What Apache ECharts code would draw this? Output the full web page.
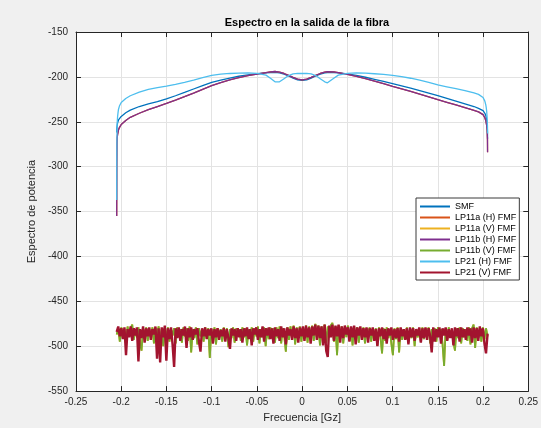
<!DOCTYPE html>
<html>
<head>
<meta charset="utf-8">
<script src="https://cdn.jsdelivr.net/npm/echarts@6/dist/echarts.min.js"></script>
<style>html,body{margin:0;padding:0;background:#f0f0f0;}#c{width:541px;height:428px;}</style>
</head>
<body>
<div id="c"></div>
<script>
const titleText = 'Espectro en la salida de la fibra';
const xName = 'Frecuencia [Gz]';
const yName = 'Espectro de potencia';
const seriesNames = ['SMF', 'LP11a (H) FMF', 'LP11a (V) FMF', 'LP11b (H) FMF', 'LP11b (V) FMF', 'LP21 (H) FMF', 'LP21 (V) FMF'];
const seriesColors = ['#0072BD', '#D95319', '#EDB120', '#7E2F8E', '#77AC30', '#4DBEEE', '#A2142F'];

// Frequencies for the upper (signal) curves
const freqUpper = [-0.205, -0.2049, -0.2047, -0.2045, -0.204, -0.2035, -0.203, -0.202, -0.2, -0.195, -0.19, -0.18, -0.17, -0.16, -0.15, -0.14, -0.13, -0.12, -0.11, -0.1, -0.09, -0.08, -0.07, -0.06, -0.05, -0.04, -0.035, -0.03, -0.028, -0.025, -0.02, -0.015, -0.01, -0.005, 0,
  0.005, 0.01, 0.015, 0.02, 0.025, 0.028, 0.03, 0.035, 0.04, 0.05, 0.06, 0.07, 0.08, 0.09, 0.1, 0.11, 0.12, 0.13, 0.14, 0.15, 0.16, 0.17, 0.18, 0.19, 0.195, 0.2, 0.202, 0.203, 0.2035, 0.204, 0.2045, 0.2047, 0.2049, 0.205];

const smf = [-262, -259, -256, -254, -251, -249.5, -248, -246.5, -244, -240, -237, -233, -230, -227.5, -224.5, -221, -217.3, -213.5, -209.7, -206, -203.5, -201.3, -199.3, -197.8, -196.5, -195.5, -195.1, -195, -195.1, -195.6, -197, -199, -201.3, -203.3, -204,
  -203.3, -201.3, -199, -197, -195.6, -195.1, -195, -195.1, -195.5, -196.6, -198.3, -200.4, -202.7, -205, -207.5, -210, -212.6, -215.4, -218.2, -221, -224, -227, -230, -233, -235, -237.5, -240.5, -243, -245, -248, -253, -256, -261, -269];

const lp11bH = [-355, -300, -275, -268, -264, -261.5, -259, -256.5, -253, -248.5, -245, -240.5, -236.5, -233, -229.5, -225.8, -222, -218, -213.8, -209.8, -206.3, -203.3, -200.8, -198.6, -197, -195.2, -194.4, -194, -194.1, -194.6, -196.2, -198.3, -200.5, -202.5, -203.3,
  -202.5, -200.5, -198.3, -196.2, -194.6, -194.1, -194, -194.4, -195.2, -197.2, -199.5, -202, -204.7, -207.5, -210.5, -213.3, -216.2, -219.2, -222.2, -225.3, -228.3, -231.3, -234.3, -237.3, -239, -242, -245.5, -248.5, -250.5, -254, -259, -263, -270, -284];

const lp11aH = [-355, -300, -275, -268, -264, -261.5, -259, -256.5, -253, -248.5, -245, -240.5, -236.5, -233, -229.5, -225.8, -222, -218, -213.8, -209.8, -206.3, -203.3, -200.8, -198.6, -197, -195.2, -194.4, -194, -194.1, -194.6, -196.2, -198.3, -200.5, -202.5, -203.3,
  -202.5, -200.5, -198.3, -196.2, -194.6, -194.1, -194, -194.4, -195.2, -197.2, -199.5, -202, -204.7, -207.5, -210.5, -213.3, -216.2, -219.2, -222.2, -225.3, -228.3, -231.3, -234.3, -237.3, -239, -242, -245.5, -248.5, -250.5, -254, -259, -263, -270, -284];

const lp21H = [-337, -290, -262, -252, -244, -239.5, -236, -232.5, -228.5, -224, -221, -217, -214, -212, -210.3, -208.3, -206, -203.5, -200.8, -198.3, -197, -196.2, -195.7, -195.5, -196, -198, -201.5, -205.5, -206.6, -205.5, -202, -198.5, -196.7, -196.2, -196,
  -196.2, -196.7, -198.5, -202, -205.5, -206.6, -205.5, -201.5, -198, -196, -195.5, -195.8, -196.5, -197.3, -198.3, -199.8, -201.5, -203.5, -206, -209, -211, -213, -215.3, -217.8, -219.5, -223, -227, -231, -234, -238, -245, -250, -255, -263];

// Noise floor (sampled every ~0.0017 Gz from -0.205 to 0.205)
const lp21V = [
  -484, -478, -489, -480, -492, -479, -510, -481, -490, -478, -494, -480, -488, -479, -517, -481, -491, -478, -496, -480,
  -489, -479, -493, -481, -487, -478, -514, -480, -518, -479, -490, -477, -516, -480, -492, -479, -498, -523, -480, -491,
  -479, -494, -481, -488, -478, -502, -480, -490, -479, -493, -481, -487, -480, -495, -506, -480, -489, -479, -492, -481,
  -488, -480, -497, -481, -490, -480, -493, -482, -489, -480, -495, -481, -491, -503, -480, -488, -481, -494, -480, -490,
  -481, -496, -480, -489, -479, -492, -481, -499, -480, -487, -479, -493, -481, -490, -478, -495, -480, -488, -479, -492,
  -480, -497, -479, -489, -481, -494, -478, -490, -480, -498, -479, -488, -481, -493, -478, -491, -480, -496, -479, -489,
  -478, -494, -477, -490, -479, -497, -478, -488, -476, -493, -477, -491, -478, -499, -476, -505, -512, -477, -490, -476,
  -494, -477, -489, -476, -496, -478, -491, -477, -487, -479, -495, -478, -490, -477, -498, -479, -488, -478, -493, -480,
  -490, -479, -496, -480, -488, -479, -494, -481, -500, -480, -489, -479, -492, -481, -497, -480, -488, -479, -493, -481,
  -491, -480, -495, -479, -489, -481, -493, -480, -498, -479, -490, -480, -494, -481, -488, -479, -496, -480, -491, -479,
  -493, -480, -489, -507, -479, -495, -481, -490, -479, -497, -480, -488, -479, -494, -481, -491, -480, -499, -479, -489,
  -480, -495, -479, -490, -481, -493, -479, -488, -480, -496, -479, -491, -480, -494, -478, -489, -480, -497, -508, -486];

const lp11bV = [
  -487, -480, -495, -479, -491, -481, -498, -478, -489, -480, -476, -493, -481, -490, -479, -496, -505, -480, -488, -479,
  -494, -481, -490, -479, -497, -480, -489, -478, -493, -481, -500, -480, -491, -479, -495, -481, -488, -480, -497, -479,
  -490, -481, -496, -479, -489, -480, -494, -478, -507, -481, -491, -479, -498, -480, -489, -481, -495, -479, -490, -480,
  -513, -481, -492, -479, -498, -480, -490, -481, -495, -479, -489, -480, -501, -481, -491, -479, -496, -480, -489, -481,
  -494, -479, -490, -480, -499, -481, -491, -479, -495, -480, -489, -478, -497, -481, -490, -479, -500, -480, -492, -479,
  -488, -480, -496, -479, -491, -478, -497, -480, -489, -506, -479, -493, -478, -490, -477, -498, -479, -491, -478, -495,
  -479, -489, -477, -496, -478, -491, -477, -494, -475, -490, -477, -499, -478, -492, -476, -496, -478, -490, -477, -474,
  -495, -478, -510, -477, -492, -478, -497, -479, -490, -477, -494, -479, -499, -478, -491, -479, -496, -480, -489, -479,
  -497, -480, -490, -479, -495, -481, -491, -480, -499, -479, -490, -508, -480, -494, -479, -491, -481, -497, -510, -480,
  -492, -479, -507, -480, -493, -481, -490, -479, -496, -480, -491, -479, -500, -481, -490, -480, -495, -479, -492, -480,
  -490, -479, -497, -481, -491, -480, -495, -479, -489, -481, -498, -522, -480, -493, -479, -490, -481, -496, -505, -480,
  -491, -479, -497, -480, -490, -481, -494, -479, -498, -480, -476, -502, -479, -491, -480, -495, -479, -492, -480, -489];

const lp11aV = lp11bV.slice();

const xTicks = [-0.25, -0.2, -0.15, -0.1, -0.05, 0, 0.05, 0.1, 0.15, 0.2, 0.25];
const yTicks = [-550, -500, -450, -400, -350, -300, -250, -200, -150];

const noiseStart = -0.205, noiseEnd = 0.205;
function noisePairs(vals) {
  const n = vals.length;
  return vals.map((v, i) => [noiseStart + (noiseEnd - noiseStart) * i / (n - 1), v]);
}
function upperPairs(vals) { return vals.map((v, i) => [freqUpper[i], v]); }

const seriesData = [upperPairs(smf), upperPairs(lp11aH), noisePairs(lp11aV), upperPairs(lp11bH), noisePairs(lp11bV), upperPairs(lp21H), noisePairs(lp21V)];
const lineWidths = [1.3, 1.3, 1.8, 1.3, 1.8, 1.3, 2.4];

const axisColor = '#262626';
const font = 'Liberation Sans, Arial, Helvetica, sans-serif';

function fmtX(v) { const r = Math.round(v * 100) / 100; return String(r); }

const chart = echarts.init(document.getElementById('c'), null, {renderer: 'canvas'});
chart.setOption({
  animation: false,
  backgroundColor: '#f0f0f0',
  textStyle: {fontFamily: font},
  title: {
    text: titleText, left: 302, top: 12, textAlign: 'center',
    textStyle: {fontSize: 11, fontWeight: 'bold', color: '#000', fontFamily: font}
  },
  grid: {left: 76, right: 12, top: 32, bottom: 34, show: true, backgroundColor: '#ffffff', borderWidth: 0},
  legend: {
    orient: 'vertical', left: 416, top: 198,
    padding: [4, 3, 3, 4], itemGap: 2, itemWidth: 30, itemHeight: 2, icon: 'rect',
    backgroundColor: '#ffffff', borderColor: '#3a3a3a', borderWidth: 1, borderRadius: 0,
    textStyle: {fontSize: 9, color: '#000', fontFamily: font},
    data: seriesNames
  },
  xAxis: [{
    type: 'value', min: xTicks[0], max: xTicks[xTicks.length - 1], interval: 0.05,
    name: xName, nameLocation: 'middle', nameGap: 17,
    nameTextStyle: {fontSize: 11, color: axisColor, fontFamily: font},
    axisLine: {show: true, onZero: false, lineStyle: {color: axisColor, width: 1}},
    axisTick: {show: true, inside: true, length: 5, lineStyle: {color: axisColor}},
    axisLabel: {fontSize: 10, color: axisColor, margin: 6, formatter: fmtX, fontFamily: font},
    splitLine: {show: true, lineStyle: {color: '#e3e3e3', width: 1}}
  }, {
    type: 'value', position: 'top', min: xTicks[0], max: xTicks[xTicks.length - 1], interval: 0.05,
    axisLine: {show: true, onZero: false, lineStyle: {color: axisColor, width: 1}},
    axisTick: {show: true, inside: true, length: 5, lineStyle: {color: axisColor}},
    axisLabel: {show: false}, splitLine: {show: false}
  }],
  yAxis: [{
    type: 'value', min: yTicks[0], max: yTicks[yTicks.length - 1], interval: 50,
    name: yName, nameLocation: 'middle', nameGap: 38,
    nameTextStyle: {fontSize: 11, color: axisColor, fontFamily: font},
    axisLine: {show: true, onZero: false, lineStyle: {color: axisColor, width: 1}},
    axisTick: {show: true, inside: true, length: 5, lineStyle: {color: axisColor}},
    axisLabel: {fontSize: 10, color: axisColor, margin: 8, fontFamily: font},
    splitLine: {show: true, lineStyle: {color: '#e3e3e3', width: 1}}
  }, {
    type: 'value', position: 'right', min: yTicks[0], max: yTicks[yTicks.length - 1], interval: 50,
    axisLine: {show: true, onZero: false, lineStyle: {color: axisColor, width: 1}},
    axisTick: {show: true, inside: true, length: 5, lineStyle: {color: axisColor}},
    axisLabel: {show: false}, splitLine: {show: false}
  }],
  series: seriesNames.map((name, i) => ({
    name: name, type: 'line', xAxisIndex: 0, yAxisIndex: 0,
    data: seriesData[i], showSymbol: false, symbol: 'none', sampling: null,
    lineStyle: {color: seriesColors[i], width: lineWidths[i], join: 'bevel'},
    itemStyle: {color: seriesColors[i]},
    emphasis: {disabled: true}, silent: true
  }))
});
</script>
</body>
</html>
